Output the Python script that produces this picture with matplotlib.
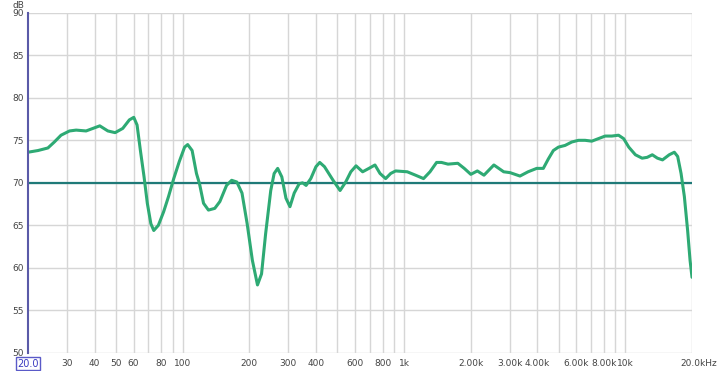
import matplotlib
matplotlib.use("Agg")
import matplotlib.pyplot as plt
import matplotlib.transforms as mtransforms
from matplotlib.ticker import FixedLocator, NullFormatter

# Frequency response (Hz, dB)
freq = [20, 22.2, 24.6, 26.3, 28.2, 30.8, 33.0, 36.6, 39.3, 42.2, 45.9, 49.5, 53.6, 57.4,
        60.1, 62.2, 64.4, 66.9, 69.2, 71.8, 74.0, 77.6, 82.0, 86.3, 91.1, 96.5, 102.0,
        105.3, 110.3, 115.4, 119.1, 124.2, 130.7, 139.6, 147.2, 157.8, 166.4, 175.6,
        185.3, 195.5, 206.4, 217.7, 227.1, 236.9, 249.9, 258.9, 268.6, 280.4, 292.7,
        305.2, 319, 336, 348, 361, 379, 400, 416, 437, 478, 514, 545, 575, 607, 650,
        694, 739, 779, 826, 870, 916, 1034, 1127, 1225, 1310, 1403, 1476, 1580, 1750,
        1871, 2003, 2144, 2297, 2546, 2820, 3013, 3340, 3634, 3975, 4258, 4485, 4727,
        4983, 5341, 5725, 6137, 6578, 7051, 7559, 8103, 8686, 9311, 9820, 10360, 11100,
        11900, 12550, 13230, 13960, 14720, 15780, 16640, 17230, 17850, 18470, 19110,
        19600, 20000]
spl = [73.6, 73.8, 74.1, 74.8, 75.6, 76.1, 76.2, 76.1, 76.4, 76.7, 76.1, 75.9, 76.4, 77.4,
       77.7, 76.8, 73.8, 70.7, 67.6, 65.2, 64.4, 65.0, 66.6, 68.4, 70.5, 72.5, 74.2,
       74.5, 73.8, 71.1, 69.9, 67.6, 66.8, 67.0, 67.8, 69.7, 70.3, 70.1,
       68.8, 65.2, 60.9, 58.0, 59.3, 64.0, 69.1, 71.1, 71.7, 70.7, 68.2,
       67.2, 68.8, 69.9, 70.0, 69.7, 70.5, 71.9, 72.4, 71.9, 70.3, 69.1, 70.1, 71.3, 72.0, 71.3,
       71.7, 72.1, 71.1, 70.5, 71.1, 71.4, 71.3, 70.9, 70.5, 71.3, 72.4, 72.4, 72.2, 72.3,
       71.7, 71.0, 71.4, 70.9, 72.1, 71.3, 71.2, 70.8, 71.3, 71.7, 71.7, 72.8, 73.8,
       74.2, 74.4, 74.8, 75.0, 75.0, 74.9, 75.2, 75.5, 75.5, 75.6, 75.2, 74.2, 73.3,
       72.9, 73.0, 73.3, 72.9, 72.7, 73.3, 73.6, 73.1, 71.1, 68.4, 64.4,
       60.9, 58.9]
target_level = 70

x_ticks = [20, 30, 40, 50, 60, 80, 100, 200, 300, 400, 600, 800, 1000, 2000, 3000,
           4000, 6000, 8000, 10000, 20000]
x_labels = ["20.0", "30", "40", "50", "60", "80", "100", "200", "300", "400", "600",
            "800", "1k", "2.00k", "3.00k", "4.00k", "6.00k", "8.00k", "10k", "20.0kHz"]
y_ticks = [50, 55, 60, 65, 70, 75, 80, 85, 90]

fig = plt.figure(figsize=(7.2, 3.71), dpi=100)
ax = fig.add_axes([28/720, 18/371, 664/720, 340.3/371])
ax.set_xscale("log")
ax.set_xlim(20, 20000)
ax.set_ylim(50, 90)

grid_positions = [v * m for m in (10, 100, 1000) for v in range(1, 10)] + [10000, 20000]
grid_positions = [g for g in grid_positions if 20 < g <= 20000]
for g in grid_positions:
    ax.axvline(g, color="#d6d6d6", lw=1.0, zorder=1)
for yv in y_ticks:
    ax.axhline(yv, color="#d6d6d6", lw=1.0, zorder=1)

ax.axhline(target_level, color="#1f7a78", lw=1.6, zorder=3)
ax.plot(freq, spl, color="#2eaa74", lw=2.2, zorder=4,
        solid_joinstyle="round", solid_capstyle="round")

for s in ["top", "right", "bottom"]:
    ax.spines[s].set_visible(False)
ax.spines["left"].set_color("#5a5aa8")
ax.spines["left"].set_linewidth(1.5)
ax.spines["left"].set_zorder(5)

ax.xaxis.set_major_locator(FixedLocator(x_ticks))
ax.xaxis.set_minor_locator(FixedLocator([]))
ax.xaxis.set_minor_formatter(NullFormatter())
ax.set_xticklabels(x_labels)
ax.set_yticks(y_ticks)
ax.set_yticklabels([str(v) for v in y_ticks])
ax.tick_params(axis="both", length=0, labelsize=6.5, colors="#444444")
ax.tick_params(axis="x", pad=4)
ax.tick_params(axis="y", pad=3)

labs = ax.get_xticklabels()
labs[0].set_color("#3a3ac0")
labs[0].set_fontsize(7)
labs[0].set_bbox(dict(boxstyle="square,pad=0.15", fc="white", ec="#5a5ac8", lw=1.0))
labs[-1].set_horizontalalignment("left")
offset = mtransforms.ScaledTranslation(-12/100, 0, fig.dpi_scale_trans)
labs[-1].set_transform(labs[-1].get_transform() + offset)

fig.text(13/720, 1 - 5/371, "dB", fontsize=6.5, color="#444444", va="center", ha="left")

fig.savefig("out.png", dpi=100, facecolor="white")
